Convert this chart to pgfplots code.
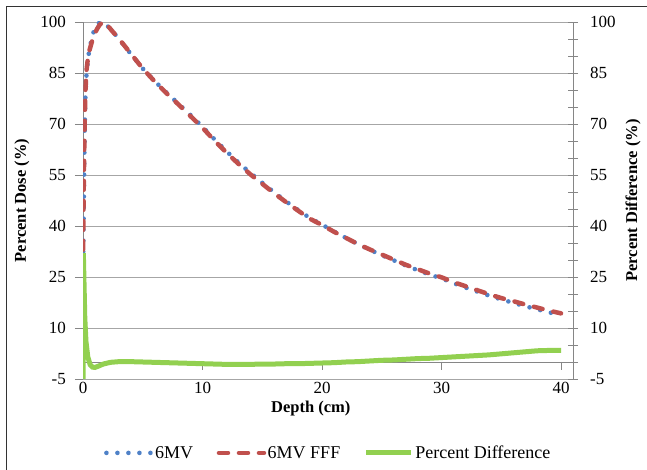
\documentclass[border=0pt]{standalone}
\usepackage{pgfplots}
\pgfplotsset{compat=1.18}
\usepackage{pgfplotstable}
\usepackage{fontspec}
\setmainfont{Liberation Serif}
\definecolor{cblue}{RGB}{79,129,199}
\definecolor{cred}{RGB}{192,80,77}
\definecolor{cgreen}{RGB}{146,208,80}
\definecolor{gridgray}{RGB}{166,166,166}
\definecolor{axgray}{RGB}{134,134,134}

\pgfplotstableread{
d mv fff
0 26 33
0.05 42 48
0.1 58 62
0.15 70 72
0.2 78 79.5
0.3 85 86
0.45 90 90.5
0.6 93 92.4
0.8 96.2 94.9
1.0 98.2 96.7
1.2 99.3 98.1
1.4 99.85 99.2
1.6 100 99.8
1.8 99.7 100
2.0 99.0 99.2
2.5 97.2 97.1
3 95.0 95.1
3.5 92.8 92.9
4 90.6 90.7
5 86.3 86.3
6 82.6 82.5
7 79.2 79.0
8 75.9 75.7
9 72.6 72.3
10 69.2 68.9
11 65.5 65.1
12 62.0 61.6
13 58.7 58.3
14 55.6 55.2
15 52.7 52.4
16 49.9 49.6
17 47.2 47.0
18 44.7 44.5
19 42.3 42.1
20 40.4 40.3
21 38.4 38.3
22 36.5 36.5
23 34.7 34.7
24 33.0 33.1
25 31.4 31.6
26 29.9 30.1
27 28.4 28.6
28 27.0 27.3
29 25.7 26.0
30 24.6 24.9
31 23.2 23.5
32 21.9 22.3
33 20.7 21.1
34 19.5 19.9
35 18.4 18.8
36 17.4 17.9
37 16.4 16.9
38 15.5 16.0
39 14.6 15.1
40 13.8 14.3
}\dosetable

\pgfplotstableread{
d g
0 -12
0.03 32
0.08 24
0.15 13
0.25 6
0.4 1.5
0.6 -0.8
0.8 -1.5
1.0 -1.6
1.3 -1.2
1.7 -0.6
2.3 -0.1
3 0.1
4 0.1
5 0.0
6 -0.1
7 -0.2
8 -0.3
9 -0.4
10 -0.5
11 -0.6
12 -0.7
13 -0.7
14 -0.7
15 -0.6
16 -0.6
17 -0.5
18 -0.5
19 -0.4
20 -0.3
21 -0.2
22 0.0
23 0.1
24 0.3
25 0.5
26 0.6
27 0.8
28 1.0
29 1.1
30 1.3
31 1.5
32 1.7
33 1.9
34 2.1
35 2.4
36 2.7
37 3.0
38 3.3
39 3.4
40 3.4
}\difftable

\begin{document}
\begin{tikzpicture}
\useasboundingbox (0,0) rectangle (647pt,470pt);
\draw[black!80, line width=0.8pt] (6pt,0pt) -- (6pt,464pt) -- (660pt,464pt);
\begin{axis}[
  at={(83pt,91pt)}, anchor=south west,
  width=490pt, height=357pt, scale only axis,
  xmin=0, xmax=41, ymin=-5, ymax=100,
  xtick={0,10,20,30,40}, ytick={-5,10,25,40,55,70,85,100},
  ymajorgrids, grid style={gridgray, line width=0.8pt},
  axis x line*=bottom, axis y line*=left,
  axis line style={axgray, line width=0.8pt, -},
  x axis line style={draw=none},
  xtick style={draw=none},
  ytick style={axgray, line width=0.8pt},
  tick align=outside, major tick length=8pt,
  /pgf/number format/assume math mode=true,
  ticklabel style={font=\fontsize{17}{20}\selectfont},
  yticklabel style={inner sep=0pt, xshift=-9pt},
  xticklabel style={inner sep=0pt, yshift=5pt},
  xlabel={\bfseries Depth (cm)},
  ylabel={\bfseries Percent Dose (\%)},
  every axis x label/.style={at={(axis description cs:0.465,-0.084)}, anchor=center, font=\fontsize{16.5}{19}\selectfont},
  every axis y label/.style={at={(axis description cs:-0.1245,0.5)}, anchor=center, rotate=90, font=\fontsize{16.5}{19}\selectfont},
  legend columns=3,
  legend style={draw=none, fill=none, at={(axis description cs:0.5,-0.207)}, anchor=center,
    font=\fontsize{18}{21}\selectfont, nodes={inner xsep=1.5pt},
    /tikz/every even column/.append style={column sep=22pt}},
  legend image code/.code={\draw[#1] (0pt,0pt) -- (45pt,0pt);},
]
\draw[axgray, line width=0.8pt] (axis cs:0,0) -- (axis cs:41,0);
\pgfplotsinvokeforeach{0,10,20,30,40}{\draw[axgray, line width=0.8pt] (axis cs:#1,0) -- ++(0pt,-8pt);}
\addplot[cblue, line width=4.6pt, line cap=round, dash pattern=on 0pt off 11pt] table[x=d, y=mv] {\dosetable};
\addlegendentry{6MV}
\addplot[cred, line width=4.5pt, line cap=round, dash pattern=on 9pt off 11pt] table[x=d, y=fff] {\dosetable};
\addlegendentry{6MV FFF}
\addplot[cgreen, line width=5pt] table[x=d, y=g] {\difftable};
\addlegendentry{Percent Difference}
\end{axis}
\begin{axis}[
  at={(83pt,91pt)}, anchor=south west,
  width=490pt, height=357pt, scale only axis,
  xmin=0, xmax=41, ymin=-5, ymax=100,
  hide x axis,
  axis y line*=right,
  axis line style={axgray, line width=0.8pt, -},
  ytick={-5,10,25,40,55,70,85,100},
  minor y tick num=2,
  ytick style={axgray, line width=0.8pt},
  tick align=center, major tick length=10pt, minor tick length=10pt,
  /pgf/number format/assume math mode=true,
  ticklabel style={font=\fontsize{17}{20}\selectfont},
  yticklabel style={inner sep=0pt, anchor=west, xshift=12pt},
  ylabel={\bfseries Percent Difference (\%)},
  every axis y label/.style={at={(axis description cs:1.1224,0.5)}, anchor=center, rotate=90, font=\fontsize{16.5}{19}\selectfont},
]
\end{axis}
\end{tikzpicture}
\end{document}
